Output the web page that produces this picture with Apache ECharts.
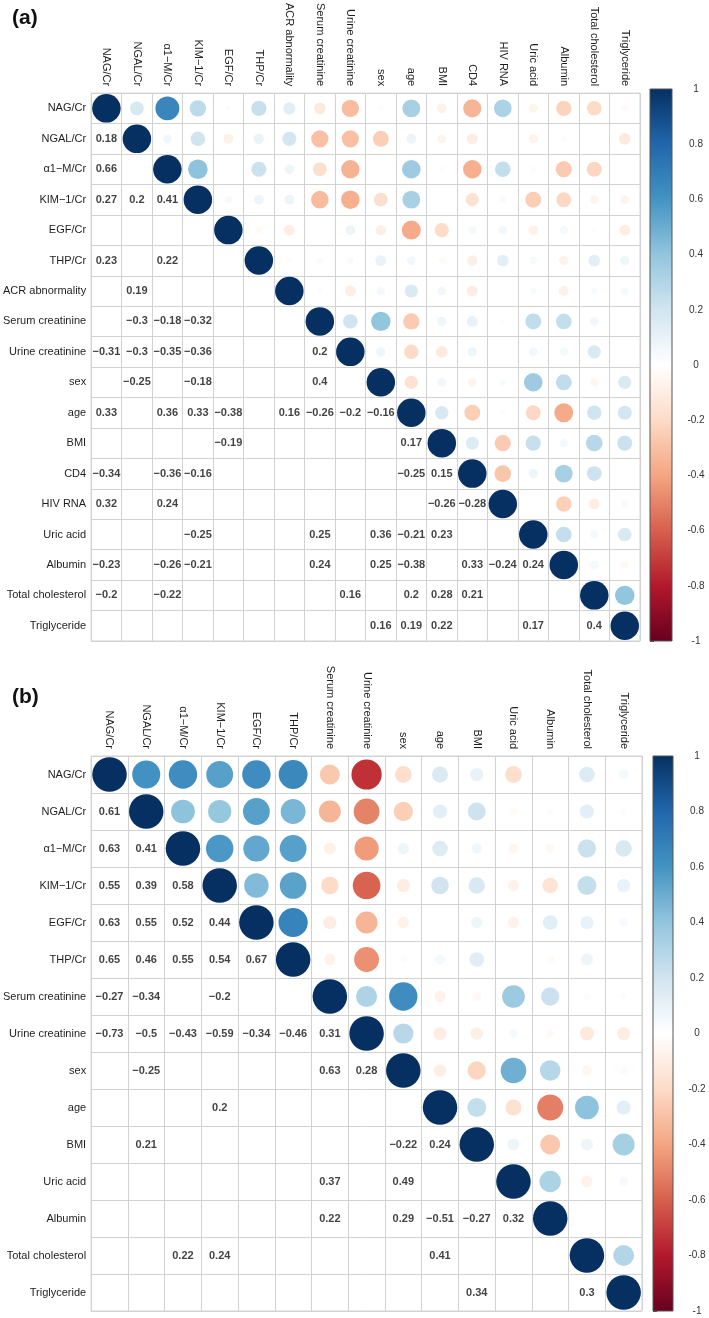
<!DOCTYPE html>
<html><head><meta charset="utf-8">
<script src="https://cdn.jsdelivr.net/npm/echarts@6/dist/echarts.min.js"></script>
<style>html,body{margin:0;padding:0;background:#fff}#c{width:709px;height:1318px}</style>
</head><body><div id="c"></div>
<script>
// ---------- Panel (a) ----------
const varsA = ['NAG/Cr','NGAL/Cr','α1−M/Cr','KIM−1/Cr','EGF/Cr','THP/Cr','ACR abnormality','Serum creatinine','Urine creatinine','sex','age','BMI','CD4','HIV RNA','Uric acid','Albumin','Total cholesterol','Triglyceride'];
// lower triangle: row i holds r(i, j) for j < i
const corrA = [
  [],
  [0.18],
  [0.66, 0.06],
  [0.27, 0.2, 0.41],
  [0.02, -0.08, 0.01, 0.04],
  [0.23, 0.09, 0.22, 0.08, -0.03],
  [0.13, 0.19, 0.07, 0.08, -0.1, -0.02],
  [-0.12, -0.3, -0.18, -0.32, -0.01, 0.03, -0.02],
  [-0.31, -0.3, -0.35, -0.36, 0.08, 0.03, -0.1, 0.2],
  [-0.02, -0.25, 0.01, -0.18, -0.09, 0.1, 0.05, 0.4, 0.07],
  [0.33, 0.08, 0.36, 0.33, -0.38, 0.06, 0.16, -0.26, -0.2, -0.16],
  [-0.08, -0.06, -0.02, 0.01, -0.19, -0.03, 0.06, 0.07, -0.12, 0.06, 0.17],
  [-0.34, -0.1, -0.36, -0.16, 0.05, -0.09, -0.1, 0.1, 0.07, -0.06, -0.25, 0.15],
  [0.32, 0, 0.24, 0.03, 0.06, 0.12, 0, -0.01, 0.01, 0.03, 0.02, -0.26, -0.28],
  [-0.06, -0.07, -0.02, -0.25, -0.08, 0.04, 0.03, 0.25, 0.06, 0.36, -0.21, 0.23, 0.07, 0],
  [-0.23, -0.02, -0.26, -0.21, 0.05, -0.07, -0.08, 0.24, 0.05, 0.25, -0.38, 0.05, 0.33, -0.24, 0.24],
  [-0.2, 0, -0.22, -0.06, -0.01, 0.12, 0.03, 0.06, 0.16, -0.05, 0.2, 0.28, 0.21, -0.1, 0.05, 0.05],
  [-0.03, -0.12, 0, -0.06, -0.1, 0.07, 0.04, 0, 0, 0.16, 0.19, 0.22, 0.01, 0.04, 0.17, -0.04, 0.4]
];
// 1 = value printed in the lower triangle (significant)
const sigA = [
  [],
  [1],
  [1,0],
  [1,1,1],
  [0,0,0,0],
  [1,0,1,0,0],
  [0,1,0,0,0,0],
  [0,1,1,1,0,0,0],
  [1,1,1,1,0,0,0,1],
  [0,1,0,1,0,0,0,1,0],
  [1,0,1,1,1,0,1,1,1,1],
  [0,0,0,0,1,0,0,0,0,0,1],
  [1,0,1,1,0,0,0,0,0,0,1,1],
  [1,0,1,0,0,0,0,0,0,0,0,1,1],
  [0,0,0,1,0,0,0,1,0,1,1,1,0,0],
  [1,0,1,1,0,0,0,1,0,1,1,0,1,1,1],
  [1,0,1,0,0,0,0,0,1,0,1,1,1,0,0,0],
  [0,0,0,0,0,0,0,0,0,1,1,1,0,0,1,0,1]
];

// ---------- Panel (b) ----------
const varsB = ['NAG/Cr','NGAL/Cr','α1−M/Cr','KIM−1/Cr','EGF/Cr','THP/Cr','Serum creatinine','Urine creatinine','sex','age','BMI','Uric acid','Albumin','Total cholesterol','Triglyceride'];
const corrB = [
  [],
  [0.61],
  [0.63, 0.41],
  [0.55, 0.39, 0.58],
  [0.63, 0.55, 0.52, 0.44],
  [0.65, 0.46, 0.55, 0.54, 0.67],
  [-0.27, -0.34, -0.08, -0.2, -0.1, -0.07],
  [-0.73, -0.5, -0.43, -0.59, -0.34, -0.46, 0.31],
  [-0.18, -0.25, 0.07, -0.1, -0.07, -0.02, 0.63, 0.28],
  [0.16, 0.12, 0.15, 0.2, 0, 0.05, -0.07, -0.1, -0.09],
  [0.1, 0.21, 0.06, 0.17, 0.07, 0.13, -0.04, -0.09, -0.22, 0.24],
  [-0.18, -0.03, -0.05, -0.07, -0.07, 0, 0.37, 0.04, 0.49, -0.16, 0.08],
  [0, 0.02, -0.04, -0.15, 0.13, -0.03, 0.22, -0.03, 0.29, -0.51, -0.27, 0.32],
  [0.15, 0.12, 0.22, 0.24, 0.1, 0.08, 0.02, -0.12, -0.05, 0.41, 0.08, -0.07, 0.01],
  [0.05, -0.02, 0.17, 0.1, 0.04, 0, 0.02, -0.1, -0.03, 0.12, 0.34, 0.04, 0, 0.3]
];
const sigB = [
  [],
  [1],
  [1,1],
  [1,1,1],
  [1,1,1,1],
  [1,1,1,1,1],
  [1,1,0,1,0,0],
  [1,1,1,1,1,1,1],
  [0,1,0,0,0,0,1,1],
  [0,0,0,1,0,0,0,0,0],
  [0,1,0,0,0,0,0,0,1,1],
  [0,0,0,0,0,0,1,0,1,0,0],
  [0,0,0,0,0,0,1,0,1,1,1,1],
  [0,0,1,1,0,0,0,0,0,1,0,0,0],
  [0,0,0,0,0,0,0,0,0,0,1,0,0,1]
];

// colour scale (corrplot RdBu), from -1 to 1
const palette = ['#67001F','#B2182B','#D6604D','#F4A582','#FDDBC7','#FFFFFF','#D1E5F0','#92C5DE','#4393C3','#2166AC','#053061'];

function circles(vars, corr) {
  const out = [];
  const n = vars.length;
  for (let i = 0; i < n; i++) {
    for (let j = i; j < n; j++) {
      out.push([j, i, i === j ? 1 : corr[j][i]]);
    }
  }
  return out;
}
function texts(vars, corr, sig) {
  const out = [];
  for (let i = 0; i < vars.length; i++) {
    for (let j = 0; j < i; j++) {
      if (sig[i][j]) out.push([j, i, corr[i][j]]);
    }
  }
  return out;
}
const fmt = v => String(v).replace('-', '\u2212');

const GRID_COL = '#d2d2d2';
const LABEL_COL = '#1e1e1e';
const FONT = 'Liberation Sans, Arial, sans-serif';

function catX(idx, vars) {
  return {
    type: 'category', gridIndex: idx, data: vars, position: 'top',
    axisLine: {show: false}, axisTick: {show: false},
    axisLabel: {interval: 0, rotate: 90, margin: 7, fontSize: 11, color: LABEL_COL, fontFamily: FONT},
    splitLine: {show: true, interval: 0, lineStyle: {color: GRID_COL, width: 1}}
  };
}
function catY(idx, vars) {
  return {
    type: 'category', gridIndex: idx, data: vars, inverse: true,
    axisLine: {show: false}, axisTick: {show: false},
    axisLabel: {interval: 0, margin: 5, fontSize: 11, color: LABEL_COL, fontFamily: FONT},
    splitLine: {show: true, interval: 0, lineStyle: {color: GRID_COL, width: 1}}
  };
}
function barX(idx) {
  return {type: 'value', gridIndex: idx, min: 0, max: 1, show: false};
}
function barY(idx) {
  return {
    type: 'value', gridIndex: idx, min: -1, max: 1, interval: 0.2, position: 'right',
    axisLine: {show: false},
    axisTick: {show: true, length: 4, lineStyle: {color: '#555'}},
    axisLabel: {margin: 24, align: 'center', fontSize: 10, color: '#333', fontFamily: FONT},
    splitLine: {show: false}
  };
}
function circleSeries(data, xi, size) {
  return {
    type: 'scatter', xAxisIndex: xi, yAxisIndex: xi, data: data,
    symbol: 'circle', symbolSize: v => size * Math.pow(Math.abs(v[2]), 0.42),
    itemStyle: {opacity: 1}, silent: true, z: 3
  };
}
function textSeries(data, xi) {
  return {
    type: 'scatter', xAxisIndex: xi, yAxisIndex: xi, data: data,
    symbolSize: 1, itemStyle: {color: 'rgba(0,0,0,0)'}, silent: true, z: 4,
    label: {show: true, position: 'inside', formatter: p => fmt(p.value[2]),
      fontSize: 11, fontWeight: 'bold', color: '#111', fontFamily: FONT}
  };
}
function barSeries(xi) {
  const stops = palette.slice().reverse().map((c, k) => ({offset: k / (palette.length - 1), color: c}));
  return {
    type: 'custom', xAxisIndex: xi, yAxisIndex: xi, data: [[0.5, 0]], silent: true,
    renderItem: (params, api) => {
      const cs = params.coordSys;
      return {type: 'rect', shape: {x: cs.x, y: cs.y, width: cs.width, height: cs.height},
        style: {fill: new echarts.graphic.LinearGradient(0, 0, 0, 1, stops), stroke: '#555', lineWidth: 1}};
    }
  };
}

const chart = echarts.init(document.getElementById('c'), null, {renderer: 'canvas'});
chart.setOption({
  animation: false,
  backgroundColor: '#fff',
  title: [
    {text: '(a)', left: 12, top: 8, padding: 0, textStyle: {fontSize: 21, fontWeight: 'bold', color: '#111', fontFamily: FONT}},
    {text: '(b)', left: 12, top: 687, padding: 0, textStyle: {fontSize: 21, fontWeight: 'bold', color: '#111', fontFamily: FONT}}
  ],
  grid: [
    {left: 88, top: 89, width: 552, height: 552, show: true, borderColor: GRID_COL, borderWidth: 1, backgroundColor: 'transparent'},
    {left: 650, top: 89, width: 22, height: 552},
    {left: 87, top: 756, width: 555, height: 555, show: true, borderColor: GRID_COL, borderWidth: 1, backgroundColor: 'transparent'},
    {left: 653, top: 756, width: 20, height: 555}
  ],
  xAxis: [catX(0, varsA), barX(1), catX(2, varsB), barX(3)],
  yAxis: [catY(0, varsA), barY(1), catY(2, varsB), barY(3)],
  visualMap: [{
    type: 'continuous', show: false, min: -1, max: 1, dimension: 2,
    seriesIndex: [0, 3], inRange: {color: palette}
  }],
  series: [
    circleSeries(circles(varsA, corrA), 0, 28.5),
    textSeries(texts(varsA, corrA, sigA), 0),
    barSeries(1),
    circleSeries(circles(varsB, corrB), 2, 34.5),
    textSeries(texts(varsB, corrB, sigB), 2),
    barSeries(3)
  ]
});
</script>
</body></html>
